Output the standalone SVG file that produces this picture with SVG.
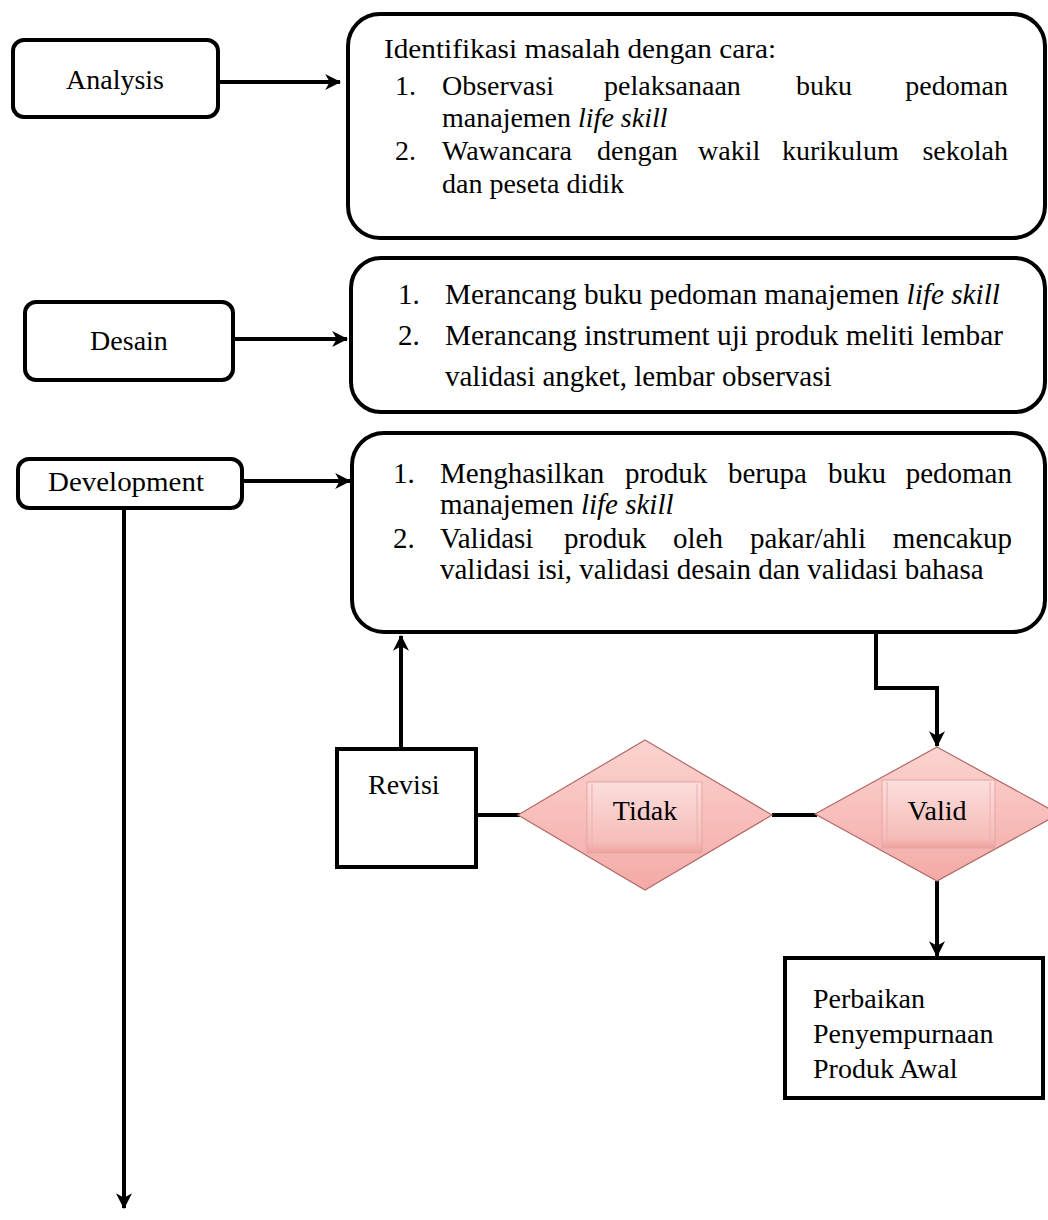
<svg xmlns="http://www.w3.org/2000/svg" width="1048" height="1220" viewBox="0 0 1048 1220">
<defs>
<style>
.box{fill:#fff;stroke:#000;stroke-width:4}
.t{font-family:"Liberation Serif","Times New Roman",serif;fill:#000}
.lbl{font-size:28px}
.b1{font-size:28px}
.b2{font-size:29px}
.b3{font-size:29px}
.it{font-style:italic}
.con{fill:none;stroke:#000;stroke-width:4}
.dia{fill:url(#pink);stroke:#b26a68;stroke-width:1.2}
.inner{fill:url(#pinkIn);stroke:#e3a5a2;stroke-width:1}
.band{stroke:#eab0ad;stroke-width:1}
</style>
<linearGradient id="pink" x1="0" y1="0" x2="0" y2="1">
<stop offset="0" stop-color="#fbd3d0"/>
<stop offset="1" stop-color="#f4aaa6"/>
</linearGradient>
<linearGradient id="pinkIn" x1="0" y1="0" x2="0" y2="1">
<stop offset="0" stop-color="#fbdedc"/>
<stop offset="0.85" stop-color="#f6bcb9"/>
<stop offset="1" stop-color="#eea29e"/>
</linearGradient>
<marker id="arr" viewBox="0 0 14 14" refX="13" refY="7" markerWidth="16" markerHeight="16" markerUnits="userSpaceOnUse" orient="auto">
<path d="M0,0 L14,7 L0,14 L4,7 z" fill="#000"/>
</marker>
</defs>

<g id="connectors">
<line class="con" x1="220" y1="82" x2="340" y2="82" marker-end="url(#arr)"/>
<line class="con" x1="235" y1="339" x2="347" y2="339" marker-end="url(#arr)"/>
<line class="con" x1="244" y1="481" x2="350" y2="481" marker-end="url(#arr)"/>
<line class="con" x1="124" y1="508" x2="124" y2="1208" marker-end="url(#arr)"/>
<line class="con" x1="401" y1="749" x2="401" y2="636" marker-end="url(#arr)"/>
<path class="con" d="M876,632 V688 H937 V746" marker-end="url(#arr)"/>
<line class="con" x1="477" y1="815" x2="520" y2="815"/>
<line class="con" x1="772" y1="815" x2="817" y2="815"/>
<line class="con" x1="937" y1="881" x2="937" y2="956" marker-end="url(#arr)"/>
</g>

<g id="analysis">
<rect class="box" x="13" y="40" width="205" height="77" rx="11"/>
<text class="t lbl" x="115" y="89" text-anchor="middle">Analysis</text>
</g>

<g id="analysis-detail">
<rect class="box" x="348" y="14" width="697" height="224" rx="32"/>
<text class="t b1" x="384" y="58" textLength="392" lengthAdjust="spacingAndGlyphs">Identifikasi masalah dengan cara:</text>
<text class="t b1" x="395" y="95">1.</text>
<text class="t b1" x="442" y="95">Observasi</text>
<text class="t b1" x="604" y="95">pelaksanaan</text>
<text class="t b1" x="796" y="95">buku</text>
<text class="t b1" x="1008" y="95" text-anchor="end">pedoman</text>
<text class="t b1" x="442" y="127">manajemen <tspan class="it">life skill</tspan></text>
<text class="t b1" x="395" y="160">2.</text>
<text class="t b1" x="442" y="160">Wawancara</text>
<text class="t b1" x="597" y="160">dengan</text>
<text class="t b1" x="698" y="160">wakil</text>
<text class="t b1" x="782" y="160">kurikulum</text>
<text class="t b1" x="1008" y="160" text-anchor="end">sekolah</text>
<text class="t b1" x="442" y="193">dan peseta didik</text>
</g>

<g id="desain">
<rect class="box" x="25" y="302" width="208" height="78" rx="11"/>
<text class="t lbl" x="129" y="350" text-anchor="middle">Desain</text>
</g>

<g id="desain-detail">
<rect class="box" x="351" y="258" width="694" height="154" rx="30"/>
<text class="t b2" x="398" y="304">1.</text>
<text class="t b2" x="445" y="304" textLength="555" lengthAdjust="spacingAndGlyphs">Merancang buku pedoman manajemen <tspan class="it">life skill</tspan></text>
<text class="t b2" x="398" y="345">2.</text>
<text class="t b2" x="445" y="345" textLength="558" lengthAdjust="spacingAndGlyphs">Merancang instrument uji produk meliti lembar</text>
<text class="t b2" x="445" y="386">validasi angket, lembar observasi</text>
</g>

<g id="development">
<rect class="box" x="18" y="459" width="224" height="49" rx="11"/>
<text class="t lbl" x="48" y="491" textLength="156" lengthAdjust="spacingAndGlyphs">Development</text>
</g>

<g id="development-detail">
<rect class="box" x="352" y="433" width="693" height="199" rx="32"/>
<text class="t b3" x="393" y="483">1.</text>
<text class="t b3" x="440" y="483">Menghasilkan</text>
<text class="t b3" x="625" y="483">produk</text>
<text class="t b3" x="728" y="483">berupa</text>
<text class="t b3" x="828" y="483">buku</text>
<text class="t b3" x="1012" y="483" text-anchor="end">pedoman</text>
<text class="t b3" x="440" y="514">manajemen <tspan class="it">life skill</tspan></text>
<text class="t b3" x="393" y="548">2.</text>
<text class="t b3" x="440" y="548">Validasi</text>
<text class="t b3" x="564" y="548">produk</text>
<text class="t b3" x="673" y="548">oleh</text>
<text class="t b3" x="750" y="548">pakar/ahli</text>
<text class="t b3" x="1012" y="548" text-anchor="end">mencakup</text>
<text class="t b3" x="440" y="579">validasi isi, validasi desain dan validasi bahasa</text>
</g>

<g id="revisi">
<rect class="box" x="337" y="749" width="139" height="118"/>
<text class="t lbl" x="368" y="794">Revisi</text>
</g>

<g id="tidak">
<polygon class="dia" points="645,740 772,815 645,890 518,815"/>
<rect class="inner" x="587" y="782" width="115" height="71"/>
<line class="band" x1="592" y1="784" x2="592" y2="851"/>
<line class="band" x1="697" y1="784" x2="697" y2="851"/>
<text class="t lbl" x="645" y="820" text-anchor="middle">Tidak</text>
</g>

<g id="valid">
<polygon class="dia" points="937,747 1059,814 937,881 815,814"/>
<rect class="inner" x="882" y="780" width="113" height="68"/>
<line class="band" x1="887" y1="782" x2="887" y2="846"/>
<line class="band" x1="990" y1="782" x2="990" y2="846"/>
<text class="t lbl" x="937" y="820" text-anchor="middle">Valid</text>
</g>

<g id="perbaikan">
<rect class="box" x="785" y="958" width="258" height="140"/>
<text class="t lbl" x="813" y="1008">Perbaikan</text>
<text class="t lbl" x="813" y="1043">Penyempurnaan</text>
<text class="t lbl" x="813" y="1078">Produk Awal</text>
</g>
</svg>
